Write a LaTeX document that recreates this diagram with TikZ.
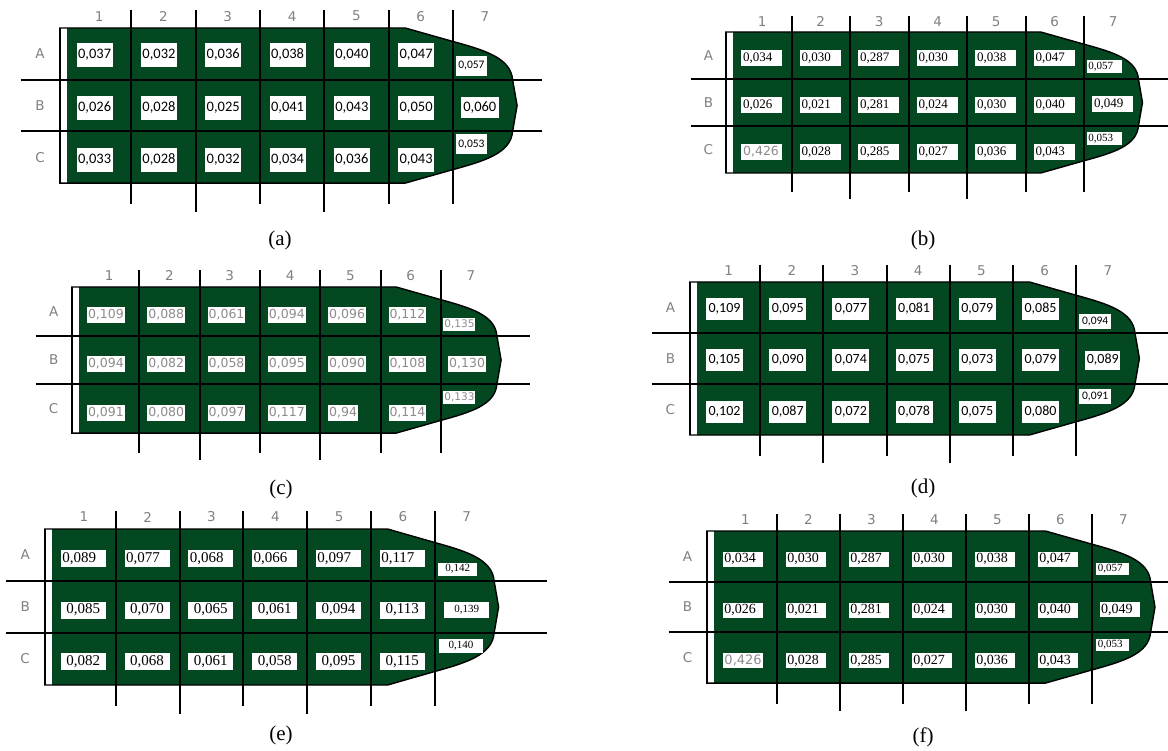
\documentclass[tikz,border=0pt]{standalone}
\usepackage{fontspec}
\setmainfont{Liberation Serif}
\newfontfamily\carl{Carlito}
\newfontfamily\cad{DejaVu Sans}
\definecolor{pgreen}{RGB}{3,72,33}
\definecolor{labgray}{RGB}{128,128,128}
\definecolor{numgray}{RGB}{140,140,140}
\tikzset{
  gridl/.style={line width=2pt, black},
  outl/.style={line width=1.4pt, black, line join=round},
  brk/.style={line width=2.2pt, black},
  lab/.style={font=\cad\fontsize{13.5}{13.5}\selectfont, text=labgray, inner sep=0pt},
  captxt/.style={font=\fontsize{21}{21}\selectfont, inner sep=0pt},
  numbox/.style={rectangle, fill=white, inner sep=0pt},
}
% frame of one panel, in cell units; #1 right end of row lines, #2 panel id
\newcommand\panelframe[2]{%
  \fill[pgreen] (0,0) -- (5.26,0) -- (6,0.26) .. controls (6.5,0.43) and (6.9,0.58) .. (6.93,1)
     -- (7.0,1.5) -- (6.93,2) .. controls (6.9,2.42) and (6.5,2.57) .. (6,2.74) -- (5.26,3) -- (0,3) -- cycle;
  \draw[outl] ([xshift=-8pt]0,0) -- (5.26,0) -- (6,0.26) .. controls (6.5,0.43) and (6.9,0.58) .. (6.93,1)
     -- (7.0,1.5) -- (6.93,2) .. controls (6.9,2.42) and (6.5,2.57) .. (6,2.74) -- (5.26,3) -- ([xshift=-8pt]0,3);
  \draw[brk] ([xshift=-7pt]0,0) -- ([xshift=-7pt]0,3);
  \foreach \y in {1,2} \draw[gridl] (-0.72,\y) -- (#1,\y);
  \foreach \x/\b in {1/3.41,2/3.55,3/3.41,4/3.55,5/3.41,6/3.41} \draw[gridl] (\x,-0.34) -- (\x,\b);
  \foreach \x in {1,...,7} \node[lab] (#2-col\x) at (\x-0.5,-0.23) {\x};
  \foreach \r/\y in {A/0.5,B/1.5,C/2.5} \node[lab] (#2-row\r) at (-0.42,\y) {\r};
}
\begin{document}
\begin{tikzpicture}[x=1pt,y=-1pt]
\useasboundingbox (0,0) rectangle (1168,751);

% ---------------- (a)
\begin{scope}[shift={(67pt,-28pt)}, x=64.3pt, y=-51.7pt,
  numA/.style={numbox, minimum width=36pt, minimum height=24pt, font=\carl\fontsize{14.5}{15}\selectfont},
  numS/.style={numbox, minimum width=31pt, minimum height=20pt, font=\carl\fontsize{11.5}{12}\selectfont}]
\panelframe{7.39}{a}
\foreach \v [count=\c] in {{0,037},{0,032},{0,036},{0,038},{0,040},{0,047}} \node[numA] (a-A\c) at (\c-0.57,0.52) {\v};
\foreach \v [count=\c] in {{0,026},{0,028},{0,025},{0,041},{0,043},{0,050}} \node[numA] (a-B\c) at (\c-0.57,1.54) {\v};
\foreach \v [count=\c] in {{0,033},{0,028},{0,032},{0,034},{0,036},{0,043}} \node[numA] (a-C\c) at (\c-0.57,2.55) {\v};
\node[numS] (a-A7) at (6.29,0.735) {0,057};
\node[numA, minimum width=38pt, minimum height=21pt] (a-B7) at (6.42,1.54) {0,060};
\node[numS] (a-C7) at (6.29,2.25) {0,053};
\end{scope}
\node[captxt] (capa) at (280,240) {(a)};

% ---------------- (b)
\begin{scope}[shift={(733pt,-32pt)}, x=58.5pt, y=-47pt,
  numA/.style={numbox, text width=37pt, inner xsep=2pt, align=left, minimum height=16pt, font=\fontsize{13}{13}\selectfont},
  numS/.style={numbox, text width=32pt, inner xsep=1.5pt, align=left, minimum height=13pt, font=\fontsize{11}{11}\selectfont}]
\panelframe{7.5}{b}
\foreach \v [count=\c] in {{0,034},{0,030},{0,287},{0,030},{0,038},{0,047}} \node[numA] (b-A\c) at (\c-0.51,0.555) {\v};
\foreach \v [count=\c] in {{0,026},{0,021},{0,281},{0,024},{0,030},{0,040}} \node[numA] (b-B\c) at (\c-0.51,1.555) {\v};
\node[numA, font=\cad\fontsize{12.5}{12.5}\selectfont, text=numgray] (b-C1) at (0.49,2.555) {0,426};
\foreach \v [count=\c from 2] in {{0,028},{0,285},{0,027},{0,036},{0,043}} \node[numA] (b-C\c) at (\c-0.51,2.555) {\v};
\node[numS] (b-A7) at (6.35,0.73) {0,057};
\node[numA] (b-B7) at (6.49,1.54) {0,049};
\node[numS] (b-C7) at (6.35,2.26) {0,053};
\end{scope}
\node[captxt] (capb) at (923,240) {(b)};

% ---------------- (c)
\begin{scope}[shift={(79pt,-287pt)}, x=60.3pt, y=-48.7pt,
  numA/.style={numbox, anchor=west, inner xsep=1pt, minimum height=16pt, text=numgray, font=\cad\fontsize{12.5}{12.5}\selectfont},
  numS/.style={numbox, anchor=west, inner xsep=1pt, minimum height=13pt, text=numgray, font=\cad\fontsize{10.5}{10.5}\selectfont}]
\panelframe{7.48}{c}
\foreach \v [count=\c] in {{0,109},{0,088},{0,061},{0,094},{0,096},{0,112}} \node[numA] (c-A\c) at (\c-0.87,0.575) {\v};
\foreach \v [count=\c] in {{0,094},{0,082},{0,058},{0,095},{0,090},{0,108}} \node[numA] (c-B\c) at (\c-0.87,1.58) {\v};
\foreach \v [count=\c] in {{0,091},{0,080},{0,097},{0,117},{0,94},{0,114}} \node[numA] (c-C\c) at (\c-0.87,2.58) {\v};
\node[numS] (c-A7) at (6.04,0.77) {0,135};
\node[numA] (c-B7) at (6.12,1.58) {0,130};
\node[numS] (c-C7) at (6.04,2.27) {0,133};
\end{scope}
\node[captxt] (capc) at (281,489) {(c)};

% ---------------- (d)
\begin{scope}[shift={(697pt,-282pt)}, x=63.2pt, y=-51pt,
  numA/.style={numbox, minimum width=37pt, minimum height=22pt, font=\carl\fontsize{14}{14}\selectfont},
  numS/.style={numbox, minimum width=32pt, minimum height=15pt, font=\carl\fontsize{11.5}{11.5}\selectfont}]
\panelframe{7.5}{d}
\foreach \v [count=\c] in {{0,109},{0,095},{0,077},{0,081},{0,079},{0,085}} \node[numA] (d-A\c) at (\c-0.565,0.53) {\v};
\foreach \v [count=\c] in {{0,105},{0,090},{0,074},{0,075},{0,073},{0,079}} \node[numA] (d-B\c) at (\c-0.565,1.53) {\v};
\foreach \v [count=\c] in {{0,102},{0,087},{0,072},{0,078},{0,075},{0,080}} \node[numA] (d-C\c) at (\c-0.565,2.55) {\v};
\node[numS] (d-A7) at (6.30,0.77) {0,094};
\node[numA, minimum width=35pt, minimum height=19pt] (d-B7) at (6.42,1.53) {0,089};
\node[numS] (d-C7) at (6.30,2.24) {0,091};
\end{scope}
\node[captxt] (capd) at (923,488) {(d)};

% ---------------- (e)
\begin{scope}[shift={(52pt,-529pt)}, x=63.8pt, y=-52pt,
  numA/.style={numbox, minimum width=45pt, minimum height=17pt, font=\fontsize{15}{15}\selectfont},
  numL/.style={numbox, text width=42pt, inner xsep=1.5pt, align=left, minimum height=17pt, font=\fontsize{15}{15}\selectfont},
  numS/.style={numbox, minimum width=39pt, minimum height=13pt, font=\fontsize{11}{11}\selectfont}]
\panelframe{7.76}{e}
\foreach \v [count=\c] in {{0,089},{0,077},{0,068},{0,066},{0,097},{0,117}} \node[numL] (e-A\c) at (\c-0.51,0.57) {\v};
\foreach \v [count=\c] in {{0,085},{0,070},{0,065},{0,061},{0,094},{0,113}} \node[numA] (e-B\c) at (\c-0.51,1.56) {\v};
\foreach \v [count=\c] in {{0,082},{0,068},{0,061},{0,058},{0,095},{0,115}} \node[numA] (e-C\c) at (\c-0.51,2.55) {\v};
\node[numS] (e-A7) at (6.36,0.77) {0,142};
\node[numS, minimum width=45pt, minimum height=16pt] (e-B7) at (6.5,1.56) {0,139};
\node[numS, minimum width=44pt, minimum height=14pt] (e-C7) at (6.41,2.25) {0,140};
\end{scope}
\node[captxt] (cape) at (281,735) {(e)};

% ---------------- (f)
\begin{scope}[shift={(714pt,-531pt)}, x=63pt, y=-50.7pt,
  numA/.style={numbox, text width=37pt, inner xsep=1.5pt, align=left, minimum height=15pt, font=\fontsize{14}{14}\selectfont},
  numS/.style={numbox, text width=30pt, inner xsep=1.5pt, align=left, minimum height=12pt, font=\fontsize{11}{11}\selectfont}]
\panelframe{7.5}{f}
\foreach \v [count=\c] in {{0,034},{0,030},{0,287},{0,030},{0,038},{0,047}} \node[numA] (f-A\c) at (\c-0.54,0.56) {\v};
\foreach \v [count=\c] in {{0,026},{0,021},{0,281},{0,024},{0,030},{0,040}} \node[numA] (f-B\c) at (\c-0.54,1.56) {\v};
\node[numA, font=\cad\fontsize{13}{13}\selectfont, text=numgray] (f-C1) at (0.46,2.56) {0,426};
\foreach \v [count=\c from 2] in {{0,028},{0,285},{0,027},{0,036},{0,043}} \node[numA] (f-C\c) at (\c-0.54,2.56) {\v};
\node[numS] (f-A7) at (6.33,0.74) {0,057};
\node[numA] (f-B7) at (6.44,1.55) {0,049};
\node[numS] (f-C7) at (6.33,2.24) {0,053};
\end{scope}
\node[captxt] (capf) at (923,737) {(f)};
\end{tikzpicture}
\end{document}
